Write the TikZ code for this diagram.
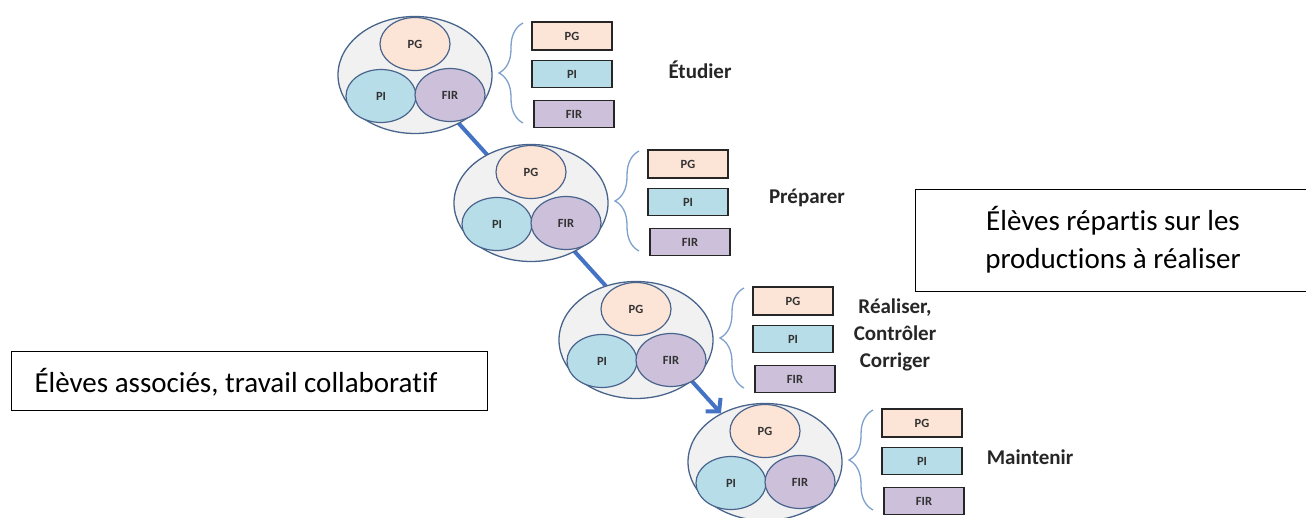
\documentclass[tikz,border=0pt]{standalone}
\usepackage{fontspec}
\setmainfont{Carlito}[Ligatures=NoCommon]
\usetikzlibrary{shapes.geometric,decorations.pathreplacing,arrows.meta,backgrounds}
\definecolor{outerfill}{RGB}{241,241,241}
\definecolor{edgecol}{RGB}{72,100,140}
\definecolor{pgfill}{RGB}{252,228,214}
\definecolor{pifill}{RGB}{183,221,232}
\definecolor{firfill}{RGB}{204,192,218}
\definecolor{bracecol}{RGB}{125,160,205}
\definecolor{arrowcol}{RGB}{68,114,196}
\tikzset{
  outerell/.style={ellipse, draw=edgecol, line width=1.3pt, fill=outerfill, minimum width=154pt, minimum height=117pt, inner sep=0pt},
  innerell/.style={ellipse, draw=edgecol, line width=1.2pt, minimum width=70pt, minimum height=53pt, inner sep=0pt, font=\fontsize{12.5}{14}\selectfont\bfseries, text=black!80},
  prodbox/.style={draw=black!85, line width=1.6pt, minimum width=80pt, minimum height=27pt, inner sep=0pt, font=\fontsize{12.5}{14}\selectfont\bfseries, text=black!80},
  bracestyle/.style={draw=bracecol, line width=1.3pt, decorate, decoration={brace, amplitude=24pt}},
  phaselabel/.style={font=\fontsize{21}{27}\selectfont\bfseries, text=black!85, align=center},
  notebox/.style={draw=black, line width=1pt, inner sep=0pt},
  notetext/.style={font=\fontsize{29}{38}\selectfont, align=center},
  flow/.style={draw=arrowcol, line width=4pt, -{Straight Barb[length=9pt,width=20pt,line width=4pt]}}
}
\newcommand\mystage[5]{%
  \begin{scope}[shift={(#2,#3)}]
    \node[outerell] (#1) at (0,0) {};
    \node[innerell, fill=pgfill] (#1pg) at (0,-31) {PG};
    \node[innerell, fill=pifill] (#1pi) at (-34,21) {PI};
    \node[innerell, fill=firfill] (#1fir) at (35,20) {FIR};
    \draw[bracestyle] (108,48) -- (108,-52);
    \node[prodbox, fill=pgfill, minimum height=28pt] (#1bpg) at (157,-39) {PG};
    \node[prodbox, fill=pifill] (#1bpi) at (157,-1) {PI};
    \node[prodbox, fill=firfill] (#1bfir) at (159,39) {FIR};
    \node[phaselabel] (#1lab) at (#4,-5) {#5};
  \end{scope}}
\begin{document}
\begin{tikzpicture}[x=1pt,y=-1pt]
  \useasboundingbox (0,0) rectangle (1306,518);
  \mystage{sa}{415}{75}{285}{Étudier}
  \mystage{sb}{531}{203}{276}{Préparer}
  \mystage{sc}{636}{340}{259}{Réaliser,\\Contrôler\\Corriger}
  \mystage{sd}{765}{462}{265}{Maintenir}
  \begin{scope}[on background layer]
    \draw[flow] (sa.center) -- (sd);
  \end{scope}
  \draw[notebox] (1310,190) -- (915,190) -- (915,292) -- (1310,292);
  \node[notetext] (nr) at (1113,240) {Élèves répartis sur les\\productions à réaliser};
  \node[notebox, minimum width=476pt, minimum height=58pt] (nl) at (249,381) {};
  \node[notetext, anchor=west] (nlt) at (31,382) {Élèves associés, travail collaboratif};
\end{tikzpicture}
\end{document}
